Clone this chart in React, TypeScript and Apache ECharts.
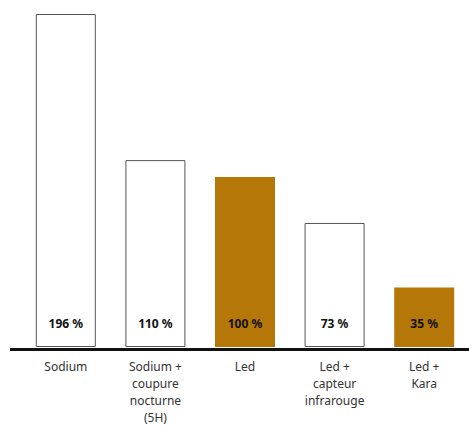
import React, { useEffect, useRef } from "react";
import * as echarts from "echarts";

const categories = [
  "Sodium",
  "Sodium +\ncoupure\nnocturne\n(5H)",
  "Led",
  "Led +\ncapteur\ninfrarouge",
  "Led +\nKara",
];
const values = [196, 110, 100, 73, 35];
const highlighted = [false, false, true, false, true];

const GOLD = "#B47708";
const FONT = "'Noto Sans', 'Open Sans', sans-serif";

export default function App() {
  const ref = useRef<HTMLDivElement>(null);
  useEffect(() => {
    if (!ref.current) return;
    const chart = echarts.init(ref.current, undefined, { renderer: "svg" });
    chart.setOption({
      animation: false,
      backgroundColor: "#ffffff",
      grid: { left: 21, right: 0, top: 14, bottom: 78 },
      xAxis: {
        type: "category",
        data: categories,
        axisLine: { show: false },
        axisTick: { show: false },
        axisLabel: {
          interval: 0,
          color: "#333",
          fontFamily: FONT,
          fontSize: 12,
          lineHeight: 17,
          margin: 11,
        },
      },
      yAxis: {
        type: "value",
        min: 0,
        max: 196,
        show: false,
        splitLine: { show: false },
      },
      series: [
        {
          type: "bar",
          barWidth: 60,
          data: values.map((v, i) => ({
            value: v,
            itemStyle: highlighted[i]
              ? { color: GOLD, borderWidth: 0 }
              : { color: "#ffffff", borderColor: "#555555", borderWidth: 1 },
          })),
          label: {
            show: true,
            position: "insideBottom",
            distance: 18,
            formatter: (p: any) => `${p.value} %`,
            color: "#111",
            fontFamily: FONT,
            fontSize: 12,
            fontWeight: "bold",
          },
        },
      ],
      graphic: [
        {
          type: "line",
          shape: { x1: 10, y1: 349.5, x2: 469, y2: 349.5 },
          style: { stroke: "#111", lineWidth: 3 },
          z: 10,
        },
      ],
    });
    return () => chart.dispose();
  }, []);
  return (
    <div
      ref={ref}
      style={{ position: "absolute", left: 0, top: 0, width: 469, height: 426 }}
    />
  );
}
